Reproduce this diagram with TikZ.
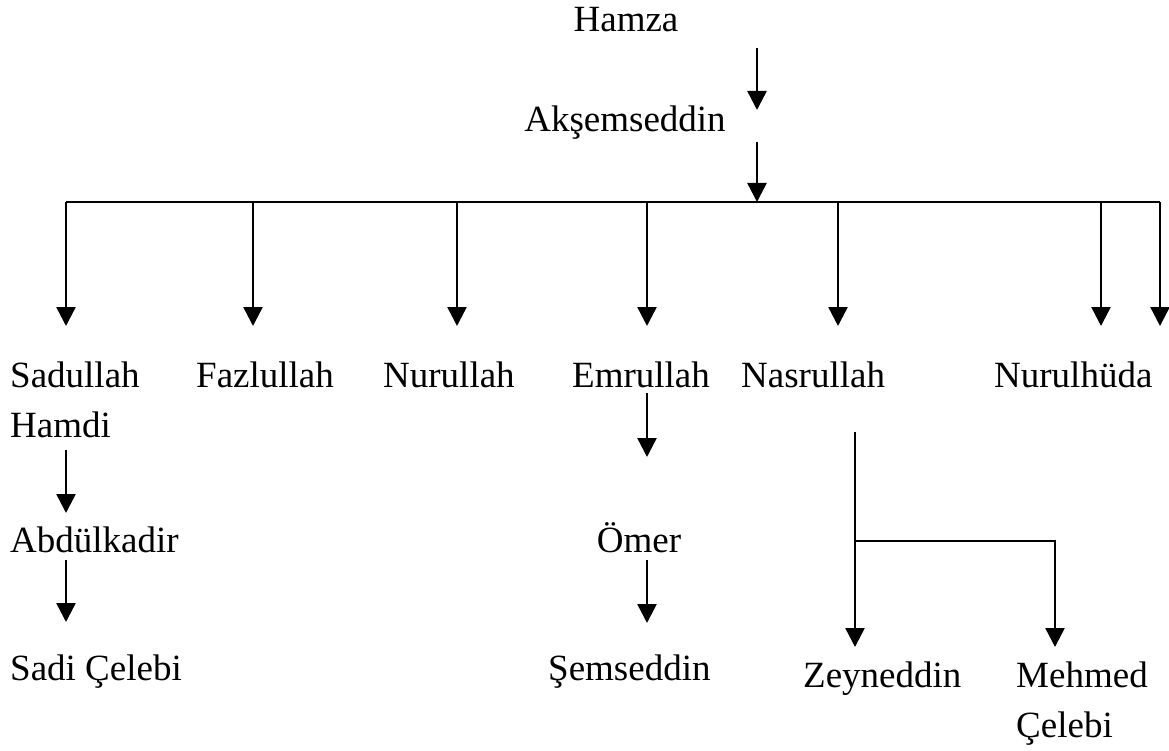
\documentclass[tikz,border=0pt]{standalone}
\usepackage{fontspec}
\setmainfont{Liberation Serif}
\usetikzlibrary{arrows.meta}
\begin{document}
\begin{tikzpicture}[x=1pt,y=-1pt,
  lbl/.style={inner sep=0pt, anchor=base west, font=\fontsize{37}{50}\selectfont, align=left},
  arr/.style={line width=2.5pt, -{Triangle[width=19pt,length=19pt]}},
  ln/.style={line width=2.5pt}]
\useasboundingbox (0,0) rectangle (1169,751);
% nodes
\node[lbl, anchor=base] (hamza) at (626,32) {Hamza};
\node[lbl, anchor=base] (aksem) at (625,132) {Akşemseddin};
\node[lbl] (sadullah) at (10,437) {Sadullah\\Hamdi};
\node[lbl] (fazlullah) at (196,387) {Fazlullah};
\node[lbl] (nurullah) at (383,387) {Nurullah};
\node[lbl] (emrullah) at (572,387) {Emrullah};
\node[lbl] (nasrullah) at (741,387) {Nasrullah};
\node[lbl] (nurulhuda) at (994,387) {Nurulhüda};
\node[lbl] (abdulkadir) at (10,552) {Abdülkadir};
\node[lbl, anchor=base] (omer) at (639,552) {Ömer};
\node[lbl] (sadi) at (10,680) {Sadi Çelebi};
\node[lbl] (semseddin) at (548,680) {Şemseddin};
\node[lbl] (zeyneddin) at (803,687) {Zeyneddin};
\node[lbl] (mehmed) at (1016,737) {Mehmed\\Çelebi};
% coordinates
\coordinate (h1) at (757,48);  \coordinate (h2) at (757,110);
\coordinate (a1) at (757,142); \coordinate (a2) at (757,202);
\coordinate (busL) at (66,202); \coordinate (busR) at (1160,202);
\coordinate (s1) at (66,450);  \coordinate (s2) at (66,513);
\coordinate (k1) at (66,560);  \coordinate (k2) at (66,622);
\coordinate (e1) at (647,393); \coordinate (e2) at (647,457);
\coordinate (o1) at (647,560); \coordinate (o2) at (647,623);
\coordinate (n1) at (855,432); \coordinate (nj) at (855,541);
\coordinate (n2) at (855,647);
\coordinate (mj) at (1055,541); \coordinate (m2) at (1055,647);
% connectors
\draw[arr] (h1) -- (h2);
\draw[arr] (a1) -- (a2);
\draw[ln] (busL) -- (busR);
\foreach \x in {66,253,457,647,838,1101,1160}
  \draw[arr] (\x,202) -- (\x,326);
\draw[arr] (s1) -- (s2);
\draw[arr] (k1) -- (k2);
\draw[arr] (e1) -- (e2);
\draw[arr] (o1) -- (o2);
\draw[arr] (n1) -- (n2);
\draw[arr] (nj) -- (mj) -- (m2);
\end{tikzpicture}
\end{document}
